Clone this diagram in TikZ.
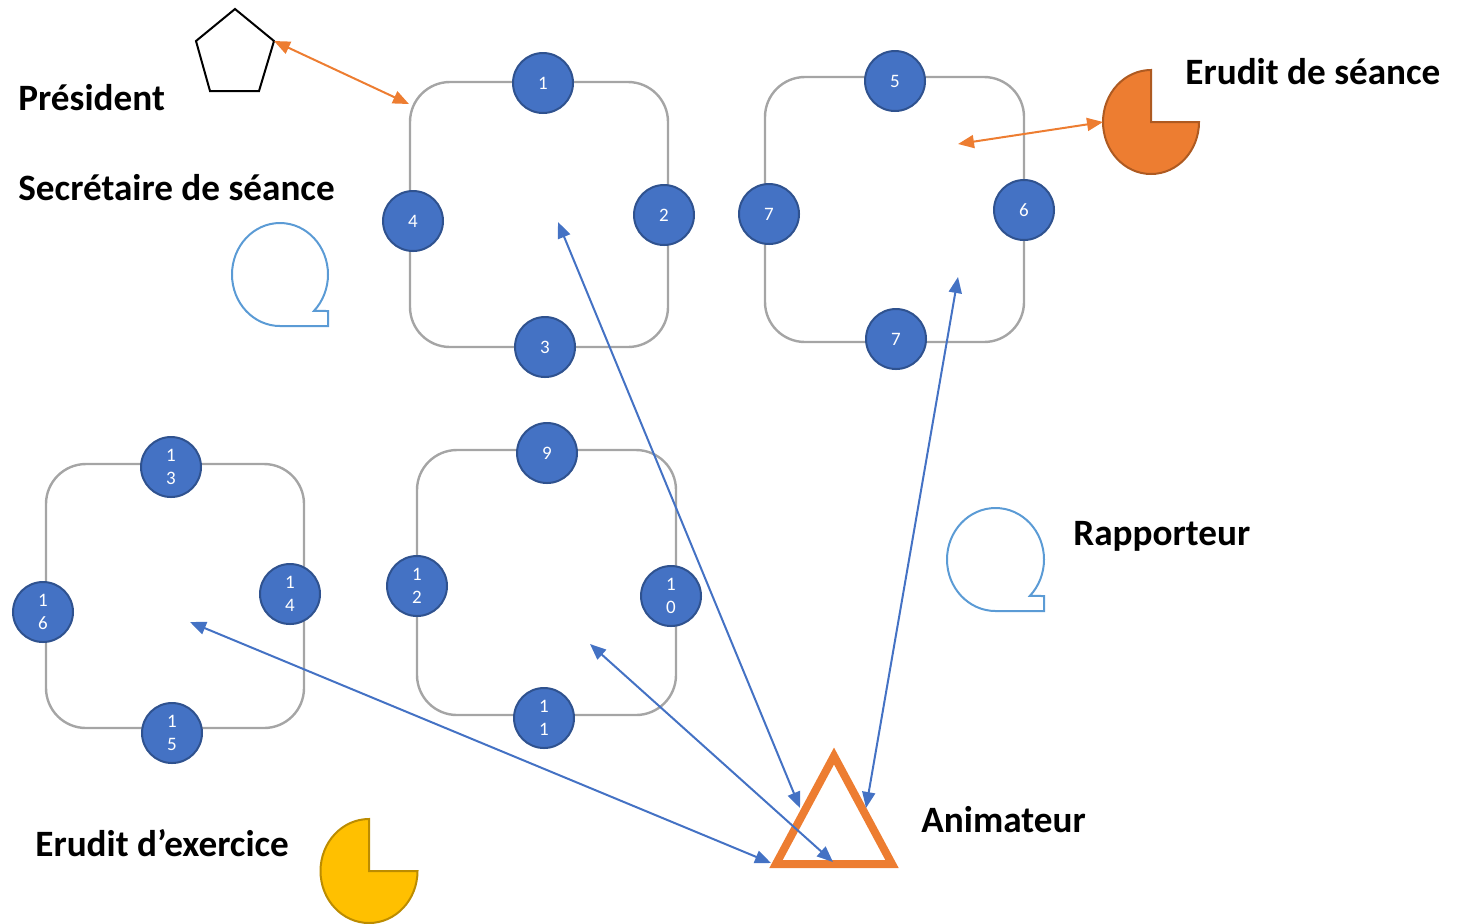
\documentclass[tikz,border=0pt]{standalone}
\usepackage{fontspec}
\setmainfont{Carlito}
\usetikzlibrary{arrows.meta}
\definecolor{seatblue}{HTML}{4472C4}
\definecolor{seatrim}{HTML}{2F528F}
\definecolor{deskgray}{HTML}{A5A5A5}
\definecolor{tapeblue}{HTML}{5B9BD5}
\definecolor{erudorange}{HTML}{ED7D31}
\definecolor{erudrim}{HTML}{AE5A21}
\definecolor{erudyellow}{HTML}{FFC000}
\definecolor{yellowrim}{HTML}{BC8C00}
\begin{document}
\begin{tikzpicture}
[x=0.5pt,y=-0.5pt,
desk/.style={draw=deskgray,line width=1.2pt,rounded corners=20pt},
seat/.style={circle,fill=seatblue,draw=seatrim,line width=1pt,minimum size=30pt,inner sep=0pt,
  text=white,align=center,font=\fontsize{9.5}{11.5}\selectfont},
role/.style={anchor=base west,inner sep=0pt,font=\fontsize{18.6}{20}\selectfont\bfseries},
tape/.style={draw=tapeblue,line width=1pt},
link/.style={draw=seatblue,line width=1pt,{Triangle[length=8pt,width=6.5pt]}-{Triangle[length=8pt,width=6.5pt]}},
pair/.style={draw=erudorange,line width=1pt,{Triangle[length=8pt,width=6.5pt]}-{Triangle[length=8pt,width=6.5pt]}}]
\useasboundingbox (0,0) rectangle (1466,923);
\draw[desk] (410,82) rectangle (668,347);
\draw[desk] (765,77) rectangle (1024,342);
\draw[desk] (46,464) rectangle (304,728);
\draw[desk] (417,450) rectangle (676,715);
\node[seat] (s1) at (543,83) {1};
\node[seat] (s2) at (664,215) {2};
\node[seat] (s3) at (545,347) {3};
\node[seat] (s4) at (413,221) {4};
\node[seat] (s5) at (895,81) {5};
\node[seat] (s6) at (1024,210) {6};
\node[seat] (s7a) at (769,214) {7};
\node[seat] (s7b) at (896,339) {7};
\node[seat] (s9) at (547,453) {9};
\node[seat] (s10) at (671,596) {1\\0};
\node[seat] (s11) at (544,718) {1\\1};
\node[seat] (s12) at (417,586) {1\\2};
\node[seat] (s13) at (171,467) {1\\3};
\node[seat] (s14) at (290,594) {1\\4};
\node[seat] (s15) at (172,733) {1\\5};
\node[seat] (s16) at (43,612) {1\\6};
\node[role] (president) at (18,110) {Président};
\node[role] (secretaire) at (18,200) {Secrétaire de séance};
\node[role] (eruseance) at (1185,84) {Erudit de séance};
\node[role] (rapporteur) at (1073,545) {Rapporteur};
\node[role] (animateur) at (921,832) {Animateur};
\node[role] (eruexercice) at (35,856) {Erudit d’exercice};
\coordinate (penta) at (274,41);
\draw[line width=1pt,line join=miter] (235,9) -- (penta) -- (259,91) -- (210,91) -- (196,41) -- cycle;
\draw[tape] (280,326) arc[start angle=90,end angle=405,x radius=48,y radius=51.5] -- (328,311) -- (328,326) -- cycle;
\draw[tape] (995.5,611) arc[start angle=90,end angle=405,x radius=48.5,y radius=51.5] -- (1044,596) -- (1044,611) -- cycle;
\coordinate (pie1) at (1103,122);
\draw[fill=erudorange,draw=erudrim,line width=1pt] (1151,122) -- (1151,70) arc[start angle=270,end angle=0,x radius=48,y radius=52] -- cycle;
\draw[fill=erudyellow,draw=yellowrim,line width=1pt] (369,871) -- (369,819) arc[start angle=270,end angle=0,x radius=48.5,y radius=52] -- cycle;
\draw[draw=erudorange,line width=4pt,line join=miter] (834,756) -- (892,864) -- (776,864) -- cycle;
\coordinate (t1) at (558,222);
\coordinate (t2) at (958,277);
\coordinate (t3) at (190,622);
\coordinate (t4) at (590,644);
\coordinate (t2e) at (958,144);
\coordinate (t1p) at (409,104);
\coordinate (a1) at (800,808);
\coordinate (a2) at (866,808);
\coordinate (a3) at (771,863);
\coordinate (a4) at (833,862);
\draw[pair] (penta) -- (t1p);
\draw[pair] (t2e) -- (pie1);
\draw[link] (t1) -- (a1);
\draw[link] (t2) -- (a2);
\draw[link] (t3) -- (a3);
\draw[link] (t4) -- (a4);
\end{tikzpicture}
\end{document}
